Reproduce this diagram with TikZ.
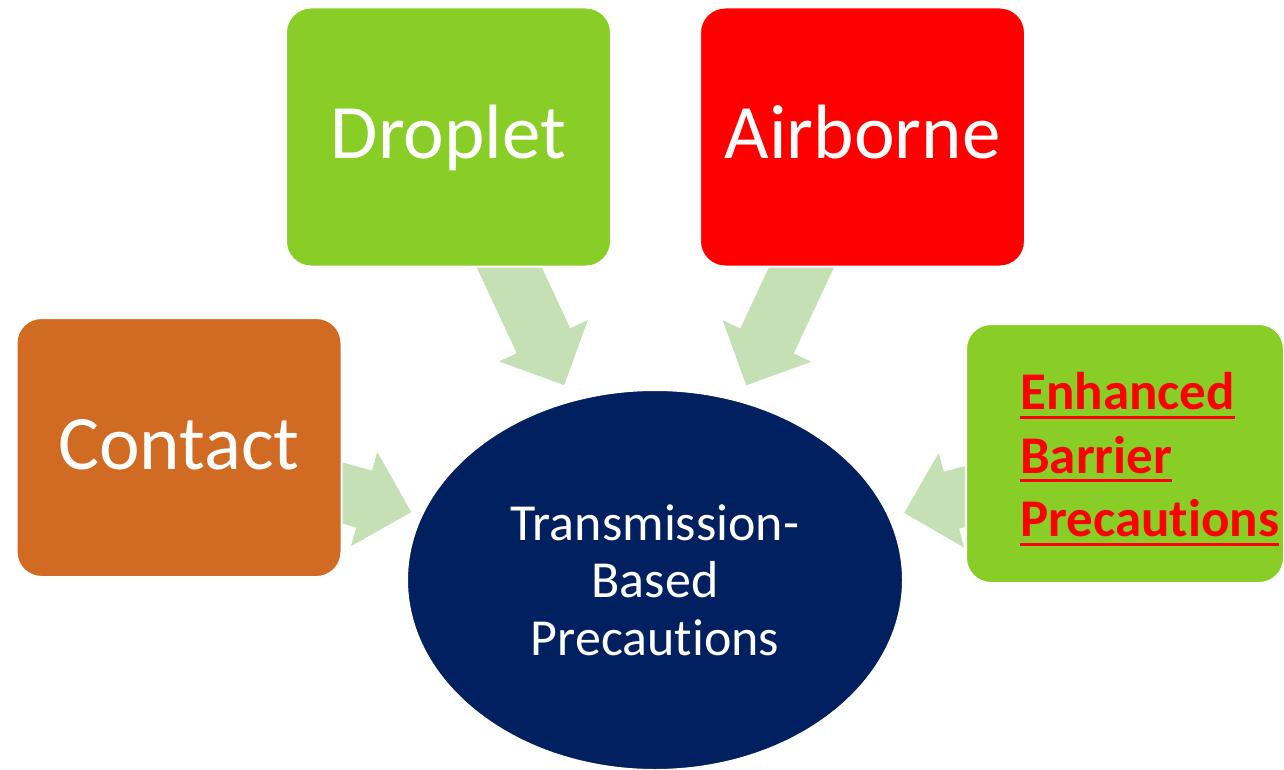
\documentclass[tikz,border=0pt]{standalone}
\usepackage{fontspec}
\setmainfont{Carlito}[Ligatures={NoCommon}]
\usetikzlibrary{shapes.geometric,calc,backgrounds}

\definecolor{leafgreen}{RGB}{136,206,38}
\definecolor{rust}{RGB}{209,106,34}
\definecolor{navy}{RGB}{0,32,96}
\definecolor{palegreen}{RGB}{197,224,180}

% thick red underline under one word
\newcommand{\redline}[1]{\setbox0=\hbox{#1}\rlap{\rule[-9pt]{\wd0}{3pt}}\box0}

\tikzset{
  card/.style={rectangle, rounded corners=25pt, draw=white, line width=2pt,
    minimum width=325pt, minimum height=259pt, inner sep=0pt,
    text height=44pt, text depth=0pt,
    text=white, font=\fontsize{77}{80}\selectfont},
  fat/.style={fill=palegreen},
}

\begin{document}
\begin{tikzpicture}[x=1pt,y=-1pt]
  \useasboundingbox (0,0) rectangle (1284,770);

  \node[card, fill=leafgreen] (droplet)  at (448.5,137)  {Droplet};
  \node[card, fill=red]       (airborne) at (862.5,137)  {Airborne};
  \node[card, fill=rust]      (contact)  at (179,447.5)  {Contact};
  \node[card, fill=leafgreen, minimum width=318pt] (ebp) at (1125,453.5) {};
  \node[anchor=west, inner sep=0pt, text=red, align=left,
        font=\fontsize{53}{63.5}\selectfont\bfseries] (ebptext) at (1020,459)
    {\redline{Enhanced}\\\redline{Barrier}\\\redline{Precautions}};

  \node[ellipse, fill=navy, draw=white, line width=2pt, inner sep=0pt,
        minimum width=496pt, minimum height=380pt, text=white, align=center,
        font=\fontsize{52}{57.5}\selectfont] (tbp) at (655,580)
    {Transmission-\\Based\\Precautions};

  % block arrows, under the boxes
  \begin{scope}[on background layer]
    \foreach \src/\reach/\neckd in {droplet/215/264, airborne/215/264, contact/253/302, ebp/258/307} {
      \coordinate (tip)  at ($(tbp)!\reach pt!(\src)$);
      \coordinate (neck) at ($(tbp)!\neckd pt!(\src)$);
      \fill[fat] ($(\src)!29.5pt!-90:(tbp)$) -- ($(neck)!29.5pt!90:(\src)$)
        -- ($(neck)!49pt!90:(\src)$) -- (tip) -- ($(neck)!49pt!-90:(\src)$)
        -- ($(neck)!29.5pt!-90:(\src)$) -- ($(\src)!29.5pt!90:(tbp)$) -- cycle;
    }
  \end{scope}

\end{tikzpicture}
\end{document}
